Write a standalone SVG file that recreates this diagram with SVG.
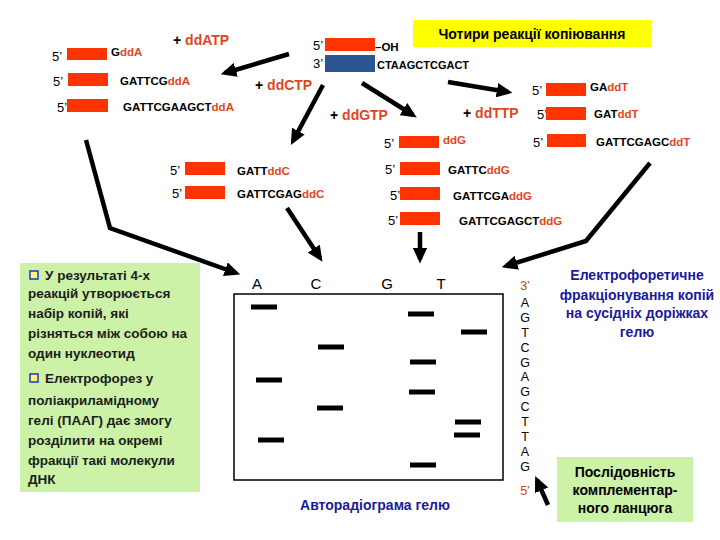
<svg xmlns="http://www.w3.org/2000/svg" width="720" height="540" viewBox="0 0 720 540">
<defs>
<marker id="ah" markerWidth="3.5" markerHeight="3.2" refX="2.5" refY="1.6" orient="auto" markerUnits="strokeWidth">
<path d="M0,0 L3.5,1.6 L0,3.2 z" fill="#000"/>
</marker>
<style>
.p{font-family:"Liberation Sans",Arial,sans-serif;font-size:13px;fill:#000}
.s{font-family:"Liberation Sans",Arial,sans-serif;font-size:11.5px;font-weight:bold;fill:#000}
.dd{fill:#E2461E}
.lab{font-family:"Liberation Sans",Arial,sans-serif;font-size:14px;font-weight:bold;fill:#000}
.bar{fill:#FF3300}
.con{fill:none;stroke:#000;stroke-width:4.5;marker-end:url(#ah)}
.band{fill:#000}
.bt{font-family:"Liberation Sans",Arial,sans-serif;font-size:13.5px;font-weight:bold;fill:#1c1c1c}
.bt2{font-family:"Liberation Sans",Arial,sans-serif;font-size:14px;font-weight:bold;fill:#000;text-anchor:middle}
.blue{font-family:"Liberation Sans",Arial,sans-serif;font-size:14px;font-weight:bold;fill:#1a1a9c;text-anchor:middle}
.seq{font-family:"Liberation Sans",Arial,sans-serif;font-size:12.5px;fill:#000;text-anchor:middle}
.lane{font-family:"Liberation Sans",Arial,sans-serif;font-size:15px;fill:#000;text-anchor:middle}
.green{fill:#CCF2A8}
.chk{fill:#FFF27A;stroke:#2233CC;stroke-width:1.5}
</style>
</defs>
<rect width="720" height="540" fill="#fff"/>

<g id="title">
<rect x="413" y="20" width="238" height="27" fill="#FFFF00"/>
<text x="532" y="39" class="bt2">Чотири реакції копіювання</text>
</g>

<g id="template">
<text x="313" y="49.5" class="p">5’</text>
<rect x="325" y="38" width="50" height="13" class="bar"/>
<text x="375" y="50.5" class="s">–OH</text>
<text x="313" y="67.5" class="p">3’</text>
<rect x="325" y="55" width="50" height="17" fill="#2B5590"/>
<text x="377" y="69" class="s" style="font-size:11px">CTAAGCTCGACT</text>
</g>

<g id="reaction-A">
<text x="173" y="44.5" class="lab">+ <tspan class="dd">ddATP</tspan></text>
<text x="52" y="60.5" class="p">5’</text>
<rect x="67" y="48" width="40" height="12" class="bar"/>
<text x="111" y="56" class="s">G<tspan class="dd">ddA</tspan></text>
<text x="53" y="85.5" class="p">5’</text>
<rect x="68" y="73" width="40" height="13" class="bar"/>
<text x="120" y="85" class="s">GATTCG<tspan class="dd">ddA</tspan></text>
<text x="57" y="111.5" class="p">5’</text>
<rect x="67" y="99" width="41" height="13" class="bar"/>
<text x="123" y="111" class="s">GATTCGAAGCT<tspan class="dd">ddA</tspan></text>
</g>

<g id="reaction-C">
<text x="255" y="89.5" class="lab">+ <tspan class="dd">ddCTP</tspan></text>
<text x="170" y="174.5" class="p">5’</text>
<rect x="185" y="162" width="40" height="13" class="bar"/>
<text x="237" y="174.5" class="s">GATT<tspan class="dd">ddC</tspan></text>
<text x="172" y="197.5" class="p">5’</text>
<rect x="185" y="186" width="40" height="13" class="bar"/>
<text x="237" y="197.5" class="s">GATTCGAG<tspan class="dd">ddC</tspan></text>
</g>

<g id="reaction-G">
<text x="330" y="119.5" class="lab">+ <tspan class="dd">ddGTP</tspan></text>
<text x="384" y="147.5" class="p">5’</text>
<rect x="399" y="136" width="40" height="12" class="bar"/>
<text x="443" y="143.5" class="s"><tspan class="dd">ddG</tspan></text>
<text x="385" y="173.5" class="p">5’</text>
<rect x="400" y="162" width="40" height="13" class="bar"/>
<text x="448" y="173.5" class="s">GATTC<tspan class="dd">ddG</tspan></text>
<text x="390" y="199.5" class="p">5’</text>
<rect x="400" y="187" width="40" height="13" class="bar"/>
<text x="453" y="199.5" class="s">GATTCGA<tspan class="dd">ddG</tspan></text>
<text x="388" y="224.5" class="p">5’</text>
<rect x="400" y="212" width="40" height="13" class="bar"/>
<text x="459" y="224.5" class="s">GATTCGAGCT<tspan class="dd">ddG</tspan></text>
</g>

<g id="reaction-T">
<text x="463" y="117.5" class="lab">+ <tspan class="dd">ddTTP</tspan></text>
<text x="532" y="94.5" class="p">5’</text>
<rect x="546" y="83" width="40" height="13" class="bar"/>
<text x="590" y="91" class="s">GA<tspan class="dd">ddT</tspan></text>
<text x="537" y="118.5" class="p">5’</text>
<rect x="546" y="107" width="40" height="13" class="bar"/>
<text x="594" y="118" class="s">GAT<tspan class="dd">ddT</tspan></text>
<text x="533" y="146.5" class="p">5’</text>
<rect x="547" y="134" width="39" height="13" class="bar"/>
<text x="596" y="146" class="s">GATTCGAGC<tspan class="dd">ddT</tspan></text>
</g>

<g id="gel">
<rect x="234" y="294" width="269" height="186" fill="#fff" stroke="#000" stroke-width="1.5"/>
<text x="257" y="288.5" class="lane">A</text>
<text x="316" y="288.5" class="lane">C</text>
<text x="387" y="288.5" class="lane">G</text>
<text x="441" y="288.5" class="lane">T</text>
<rect x="251" y="304.5" width="26" height="5" class="band"/>
<rect x="256" y="377.5" width="26" height="5" class="band"/>
<rect x="258" y="437.5" width="26" height="5" class="band"/>
<rect x="318" y="344.5" width="26" height="5" class="band"/>
<rect x="317" y="405.5" width="26" height="5" class="band"/>
<rect x="408" y="311.5" width="26" height="5" class="band"/>
<rect x="410" y="359.5" width="26" height="5" class="band"/>
<rect x="409" y="389.5" width="26" height="5" class="band"/>
<rect x="410" y="462.5" width="26" height="5" class="band"/>
<rect x="461" y="329.5" width="26" height="5" class="band"/>
<rect x="455" y="419.5" width="26" height="5" class="band"/>
<rect x="454" y="432.5" width="26" height="5" class="band"/>
<text x="375" y="510" class="blue">Авторадіограма гелю</text>
</g>

<g id="sequence">
<text x="525" y="289.5" class="seq" style="fill:#D04020">3’</text>
<text x="525" y="306.5" class="seq">A</text>
<text x="525" y="321.5" class="seq">G</text>
<text x="525" y="336.5" class="seq">T</text>
<text x="525" y="351.5" class="seq">C</text>
<text x="525" y="366.5" class="seq">G</text>
<text x="525" y="380.5" class="seq">A</text>
<text x="525" y="395.5" class="seq">G</text>
<text x="525" y="410.5" class="seq">C</text>
<text x="525" y="425.5" class="seq">T</text>
<text x="525" y="440.5" class="seq">T</text>
<text x="525" y="455.5" class="seq">A</text>
<text x="525" y="470.5" class="seq">G</text>
<text x="525" y="494.5" class="seq" style="fill:#D04020">5’</text>
</g>

<g id="note-left">
<rect x="20" y="263" width="180" height="229" class="green"/>
<rect x="30" y="271" width="8" height="8" class="chk"/>
<text x="45" y="280" class="bt">У результаті 4-х</text>
<text x="28" y="298" class="bt">реакцій утворюється</text>
<text x="28" y="318" class="bt">набір копій, які</text>
<text x="28" y="338" class="bt">різняться між собою на</text>
<text x="28" y="358" class="bt">один нуклеотид</text>
<rect x="30" y="374" width="8" height="8" class="chk"/>
<text x="45" y="383" class="bt">Електрофорез у</text>
<text x="28" y="405" class="bt">поліакриламідному</text>
<text x="28" y="425" class="bt">гелі (ПААГ) дає змогу</text>
<text x="28" y="445" class="bt">розділити на окремі</text>
<text x="28" y="465" class="bt">фракції такі молекули</text>
<text x="28" y="484" class="bt">ДНК</text>
</g>

<g id="note-right">
<text x="637" y="280" class="blue">Електрофоретичне</text>
<text x="637" y="300" class="blue">фракціонування копій</text>
<text x="637" y="318" class="blue">на сусідніх доріжках</text>
<text x="637" y="337" class="blue">гелю</text>
</g>

<g id="note-sequence">
<rect x="557" y="457" width="136" height="65" class="green"/>
<text x="625" y="477" class="bt2">Послідовність</text>
<text x="625" y="495" class="bt2">комплементар-</text>
<text x="625" y="513" class="bt2">ного ланцюга</text>
</g>

<g id="connectors">
<path class="con" d="M289,54 L225,73"/>
<path class="con" d="M323,85 L293,141"/>
<path class="con" d="M362,83 L413,115"/>
<path class="con" d="M448,82 L508,92"/>
<path class="con" d="M287,208 L320,258"/>
<path class="con" d="M420,232 L420,259"/>
<path class="con" d="M86,140 L110,228 L236,273"/>
<path class="con" d="M650,163 L586,241 L506,266"/>
<path class="con" d="M548,505 L537,480"/>
</g>
</svg>
